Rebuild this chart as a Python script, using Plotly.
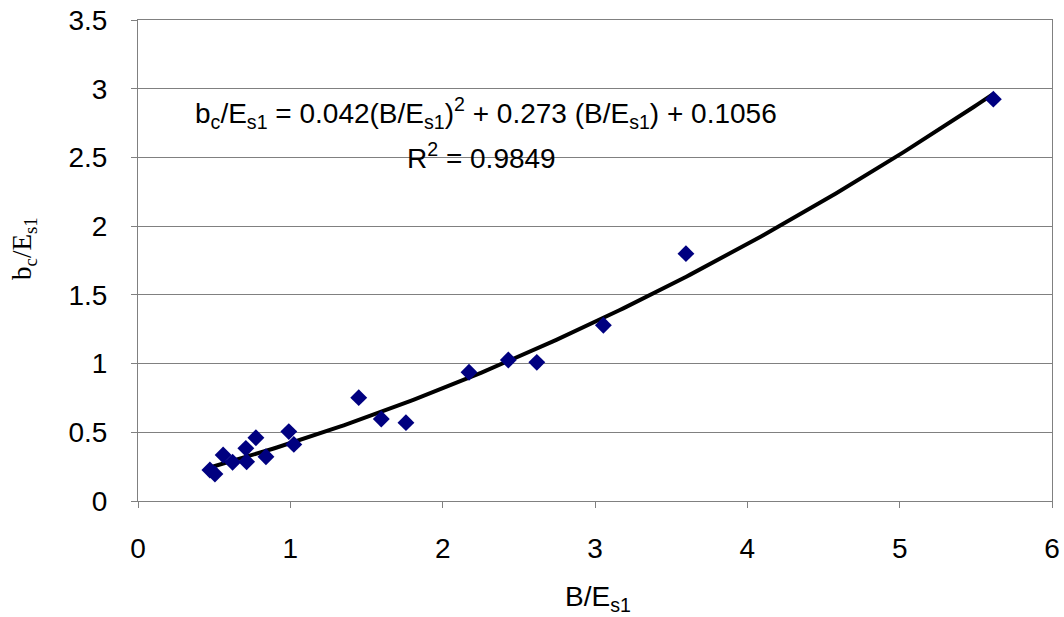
import numpy as np
import plotly.graph_objects as go

# Data
x_vals = [0.472, 0.505, 0.559, 0.621, 0.708, 0.713, 0.774, 0.840, 0.990, 1.023,
          1.449, 1.597, 1.759, 2.173, 2.431, 2.618, 3.055, 3.597, 5.615]
y_vals = [0.226, 0.197, 0.335, 0.282, 0.383, 0.286, 0.460, 0.322, 0.505, 0.412,
          0.752, 0.597, 0.570, 0.937, 1.026, 1.009, 1.279, 1.800, 2.924]

# Trendline coefficients (from the chart's equation)
coef = [0.042, 0.273, 0.1056]

x_ticks = [0, 1, 2, 3, 4, 5, 6]
y_ticks = [0, 0.5, 1, 1.5, 2, 2.5, 3, 3.5]

xf = np.linspace(min(x_vals), max(x_vals), 200)
yf = np.polyval(coef, xf)

fig = go.Figure()
fig.add_trace(go.Scatter(x=xf, y=yf, mode="lines",
                         line=dict(color="black", width=4), showlegend=False,
                         hoverinfo="skip"))
fig.add_trace(go.Scatter(x=x_vals, y=y_vals, mode="markers",
                         marker=dict(symbol="diamond", size=13, color="#000080",
                                     line=dict(width=0)),
                         showlegend=False))

font_family = "Liberation Sans, Arial, sans-serif"
L, R, T, B = 138, 12, 20, 116
PW, PH = 1064 - L - R, 617 - T - B


def px(xp):
    return (xp - L) / PW


def py(yp):
    return (617 - B - yp) / PH


fig.update_layout(
    width=1064, height=617,
    margin=dict(l=L, r=R, t=T, b=B, autoexpand=False),
    plot_bgcolor="white", paper_bgcolor="white",
    font=dict(family=font_family, size=28, color="black"),
    xaxis=dict(range=[0, 6], tickvals=x_ticks, showgrid=False, zeroline=False,
               showline=True, linecolor="#808080", linewidth=1, mirror=True,
               ticks="outside", ticklen=6, tickcolor="#808080", automargin=False,
               ticklabelstandoff=16, tickfont=dict(size=28)),
    yaxis=dict(range=[0, 3.5], tickvals=y_ticks, showgrid=True,
               gridcolor="#808080", gridwidth=1, zeroline=False,
               showline=True, linecolor="#808080", linewidth=1, mirror=True,
               ticks="outside", ticklen=6, tickcolor="#808080", automargin=False,
               ticklabelstandoff=18, tickfont=dict(size=28)),
    annotations=[
        dict(x=px(598), y=py(598), xref="paper", yref="paper", showarrow=False,
             xanchor="center", yanchor="middle",
             text="B/E<sub>s1</sub>", font=dict(size=28)),
        dict(x=px(24), y=py(249), xref="paper", yref="paper", showarrow=False,
             xanchor="center", yanchor="middle", textangle=-90,
             text="b<sub>c</sub>/E<sub>s1</sub>",
             font=dict(family="Liberation Serif, Times New Roman, serif", size=27)),
        dict(x=px(486), y=py(113), xref="paper", yref="paper",
             showarrow=False, xanchor="center", yanchor="middle",
             text="b<sub>c</sub>/E<sub>s1</sub> = 0.042(B/E<sub>s1</sub>)<sup>2</sup>"
                  " + 0.273 (B/E<sub>s1</sub>) + 0.1056",
             font=dict(size=28)),
        dict(x=px(481), y=py(156), xref="paper", yref="paper",
             showarrow=False, xanchor="center", yanchor="middle",
             text="R<sup>2</sup> = 0.9849", font=dict(size=28)),
    ],
)

fig.write_html("out.html")
